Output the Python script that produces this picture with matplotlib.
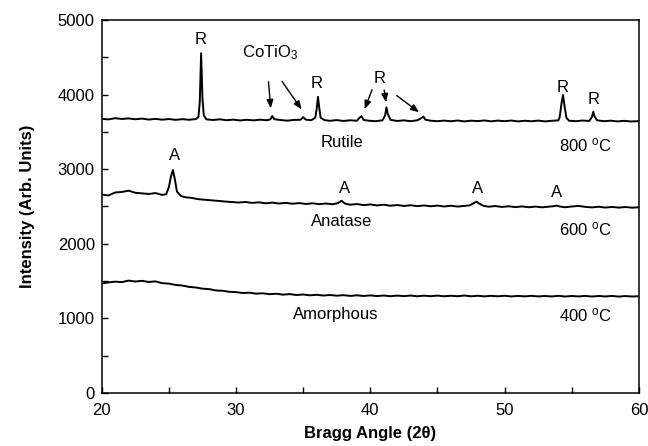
import matplotlib
matplotlib.use("Agg")
import matplotlib.pyplot as plt
from matplotlib.ticker import MultipleLocator

plt.rcParams["font.family"] = ["Liberation Sans", "DejaVu Sans"]
plt.rcParams["mathtext.fontset"] = "custom"
plt.rcParams["mathtext.rm"] = "Liberation Sans"
plt.rcParams["mathtext.it"] = "Liberation Sans:italic"
plt.rcParams["mathtext.bf"] = "Liberation Sans:bold"

# 800 C pattern (rutile + CoTiO3)
angle800 = [20.0, 20.5, 21.0, 21.5, 22.0, 22.5, 23.0, 23.5, 24.0, 24.5, 25.0, 25.5, 26.0, 26.5, 27.0,
            27.2, 27.3, 27.4, 27.5, 27.6, 27.8, 28.3, 28.8, 29.3, 29.8, 30.3, 30.8, 31.3, 31.8, 32.3,
            32.55, 32.7, 32.85, 33.3, 33.8, 34.3, 34.8, 35.0, 35.2, 35.6, 35.9, 36.0, 36.1, 36.2, 36.3,
            36.6, 37.0, 37.5, 38.0, 38.5, 39.0, 39.2, 39.35, 39.5, 39.9, 40.4, 40.9, 41.1, 41.2, 41.3,
            41.5, 42.0, 42.5, 43.0, 43.5, 43.8, 43.95, 44.1, 44.5, 45.0, 45.5, 46.0, 46.5, 47.0, 47.5,
            48.0, 48.5, 49.0, 49.5, 50.0, 50.5, 51.0, 51.5, 52.0, 52.5, 53.0, 53.5, 54.0, 54.1, 54.25,
            54.35, 54.45, 54.6, 54.8, 55.3, 55.8, 56.3, 56.5, 56.6, 56.7, 56.9, 57.4, 57.9, 58.4, 58.9,
            59.4, 60.0]
counts800 = [3675, 3668, 3684, 3674, 3681, 3670, 3679, 3666, 3675, 3664, 3673, 3662, 3671, 3663, 3672,
             3700, 3900, 4555, 3950, 3720, 3668, 3660, 3669, 3657, 3665, 3654, 3663, 3655, 3664, 3657,
             3668, 3712, 3670, 3660, 3651, 3661, 3663, 3698, 3664, 3657, 3690, 3800, 3970, 3820, 3690,
             3658, 3649, 3659, 3647, 3656, 3650, 3692, 3710, 3660, 3650, 3644, 3656, 3720, 3830, 3740,
             3662, 3647, 3655, 3644, 3656, 3686, 3706, 3664, 3650, 3644, 3652, 3643, 3653, 3641, 3651,
             3645, 3654, 3642, 3652, 3644, 3653, 3641, 3650, 3643, 3652, 3641, 3649, 3655, 3700, 3900,
             3995, 3860, 3690, 3650, 3644, 3653, 3647, 3700, 3770, 3705, 3655, 3644, 3651, 3641, 3649,
             3640, 3645]

# 600 C pattern (anatase)
angle600 = [20.0, 20.5, 21.0, 21.5, 22.0, 22.5, 23.0, 23.5, 24.0, 24.5, 24.8, 25.0, 25.15, 25.3, 25.45,
            25.6, 25.9, 26.2, 26.7, 27.2, 27.7, 28.2, 28.7, 29.2, 29.7, 30.2, 30.7, 31.2, 31.7, 32.2,
            32.7, 33.2, 33.7, 34.2, 34.7, 35.2, 35.7, 36.2, 36.7, 37.2, 37.6, 37.85, 38.1, 38.5, 39.0,
            39.5, 40.0, 40.5, 41.0, 41.5, 42.0, 42.5, 43.0, 43.5, 44.0, 44.5, 45.0, 45.5, 46.0, 46.5,
            47.0, 47.4, 47.7, 47.9, 48.1, 48.4, 48.8, 49.3, 49.8, 50.3, 50.8, 51.3, 51.8, 52.3, 52.8,
            53.3, 53.7, 53.9, 54.1, 54.5, 55.0, 55.5, 56.0, 56.5, 57.0, 57.5, 58.0, 58.5, 59.0, 59.5,
            60.0]
counts600 = [2660, 2648, 2688, 2695, 2712, 2684, 2676, 2668, 2680, 2655, 2665, 2760, 2900, 2990, 2860,
             2700, 2640, 2625, 2615, 2598, 2590, 2582, 2575, 2566, 2560, 2553, 2561, 2548, 2556, 2543,
             2552, 2540, 2549, 2537, 2546, 2534, 2543, 2531, 2540, 2530, 2545, 2578, 2540, 2524, 2533,
             2518, 2528, 2514, 2524, 2510, 2520, 2507, 2517, 2505, 2514, 2503, 2512, 2500, 2510, 2499,
             2508, 2515, 2545, 2565, 2540, 2510, 2497, 2506, 2494, 2503, 2492, 2501, 2490, 2499, 2489,
             2498, 2505, 2512, 2500, 2490, 2500, 2508, 2495, 2488, 2497, 2486, 2494, 2485, 2493, 2484,
             2490]

# 400 C pattern (amorphous)
angle400 = [20.0, 20.5, 21.0, 21.5, 22.0, 22.5, 23.0, 23.5, 24.0, 24.5, 25.0, 25.5, 26.0, 26.5, 27.0,
            27.5, 28.0, 28.5, 29.0, 29.5, 30.0, 30.5, 31.0, 31.5, 32.0, 32.5, 33.0, 33.5, 34.0, 34.5,
            35.0, 35.5, 36.0, 36.5, 37.0, 37.5, 38.0, 38.5, 39.0, 39.5, 40.0, 40.5, 41.0, 41.5, 42.0,
            42.5, 43.0, 43.5, 44.0, 44.5, 45.0, 45.5, 46.0, 46.5, 47.0, 47.5, 48.0, 48.5, 49.0, 49.5,
            50.0, 50.5, 51.0, 51.5, 52.0, 52.5, 53.0, 53.5, 54.0, 54.5, 55.0, 55.5, 56.0, 56.5, 57.0,
            57.5, 58.0, 58.5, 59.0, 59.5, 60.0]
counts400 = [1468, 1482, 1492, 1486, 1506, 1494, 1503, 1488, 1496, 1472, 1466, 1448, 1440, 1422, 1414,
             1398, 1392, 1374, 1370, 1356, 1352, 1340, 1344, 1331, 1336, 1324, 1330, 1318, 1325, 1313,
             1320, 1309, 1316, 1306, 1313, 1304, 1311, 1301, 1309, 1300, 1308, 1299, 1306, 1297, 1305,
             1298, 1306, 1296, 1304, 1297, 1305, 1296, 1303, 1297, 1306, 1296, 1303, 1295, 1302, 1296,
             1303, 1294, 1301, 1295, 1302, 1294, 1300, 1294, 1302, 1293, 1300, 1294, 1301, 1293, 1300,
             1294, 1301, 1292, 1299, 1293, 1297]

fig = plt.figure(figsize=(6.48, 4.46), dpi=100)
ax = fig.add_axes([0.157, 0.119, 0.829, 0.836])

for xs, ys in [(angle800, counts800), (angle600, counts600), (angle400, counts400)]:
    ax.plot(xs, ys, color="black", lw=1.4)

ax.set_xlim(20, 60)
ax.set_ylim(0, 5000)
ax.xaxis.set_major_locator(MultipleLocator(10))
ax.xaxis.set_minor_locator(MultipleLocator(5))
ax.yaxis.set_major_locator(MultipleLocator(1000))
ax.yaxis.set_minor_locator(MultipleLocator(500))
ax.tick_params(which="both", direction="in", length=4, width=1, labelsize=12)
ax.tick_params(axis="x", pad=7)
ax.tick_params(axis="y", pad=5)
for s in ax.spines.values():
    s.set_linewidth(1.1)

ax.set_xlabel("Bragg Angle (2θ)", fontsize=12, fontweight="bold", labelpad=6)
ax.set_ylabel("Intensity (Arb. Units)", fontsize=12, fontweight="bold", labelpad=16)

fs = 12
# peak labels
ax.text(27.4, 4745, "R", fontsize=fs, ha="center", va="center")
ax.text(36.0, 4155, "R", fontsize=fs, ha="center", va="center")
ax.text(40.7, 4220, "R", fontsize=fs, ha="center", va="center")
ax.text(54.3, 4090, "R", fontsize=fs, ha="center", va="center")
ax.text(56.6, 3930, "R", fontsize=fs, ha="center", va="center")
ax.text(32.5, 4560, "CoTiO$_3$", fontsize=fs, ha="center", va="center")
ax.text(25.4, 3190, "A", fontsize=fs, ha="center", va="center")
ax.text(38.1, 2735, "A", fontsize=fs, ha="center", va="center")
ax.text(48.0, 2735, "A", fontsize=fs, ha="center", va="center")
ax.text(53.9, 2690, "A", fontsize=fs, ha="center", va="center")

ax.text(37.9, 3360, "Rutile", fontsize=fs, ha="center", va="center")
ax.text(37.85, 2300, "Anatase", fontsize=fs, ha="center", va="center")
ax.text(37.4, 1045, "Amorphous", fontsize=fs, ha="center", va="center")
ax.text(56.0, 3325, "800 $^{\\mathrm{o}}$C", fontsize=fs, ha="center", va="center")
ax.text(56.0, 2200, "600 $^{\\mathrm{o}}$C", fontsize=fs, ha="center", va="center")
ax.text(56.0, 1045, "400 $^{\\mathrm{o}}$C", fontsize=fs, ha="center", va="center")

arrow = dict(arrowstyle="-|>,head_length=0.5,head_width=0.2", color="black", lw=1)
for start, end in [((32.4, 4210), (32.6, 3780)),
                   ((33.3, 4210), (35.0, 3770)),
                   ((40.2, 4100), (39.5, 3770)),
                   ((41.0, 4100), (41.2, 3860)),
                   ((41.8, 4010), (43.8, 3740))]:
    ax.annotate("", xy=end, xytext=start, arrowprops=arrow)

fig.savefig("out.png", dpi=100)
